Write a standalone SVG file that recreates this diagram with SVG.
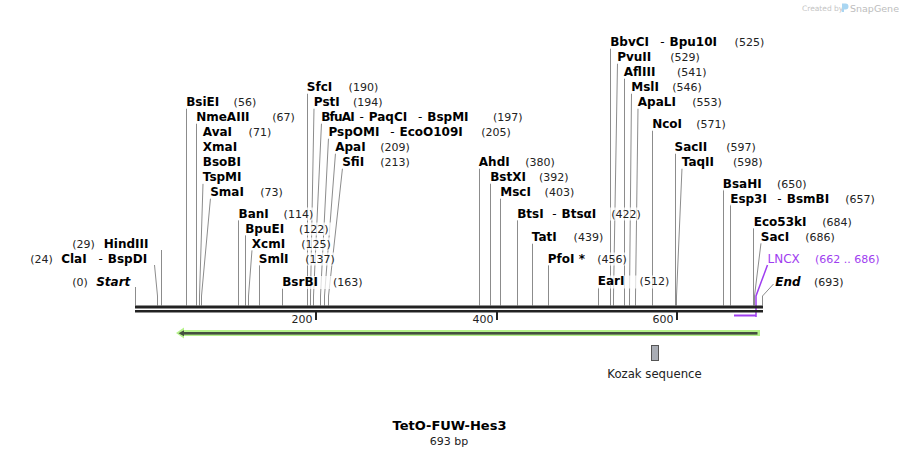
<svg xmlns="http://www.w3.org/2000/svg" width="899" height="456" viewBox="0 0 899 456">
<style>
.n{font-family:"DejaVu Sans",Verdana,sans-serif;font-weight:bold;font-size:12px;fill:#000}
.h{font-weight:normal}
.p{font-family:"DejaVu Sans",Verdana,sans-serif;font-size:11px;fill:#222}
.it{font-style:italic}
.bg{fill:#fff;fill-opacity:0.72}
.ln{stroke:#8c8c8c;stroke-width:1;fill:none}
.tk{font-family:"DejaVu Sans",Verdana,sans-serif;font-size:11px;fill:#222;text-anchor:end}
.pu{fill:#9f3ef0}
</style>
<rect width="899" height="456" fill="#fff"/>
<g id="credit">
<text x="802" y="11" font-family="DejaVu Sans,sans-serif" font-size="7.5" fill="#c4c4c4">Created by</text>
<path d="M842,3.5h3.5a3,3 0 0 1 0,6h-1.5v2.5h-2z" fill="#a9d6f2"/>
<text x="850" y="11.5" font-family="DejaVu Sans,sans-serif" font-size="9.5" fill="#bdbdbd">SnapGene</text>
</g>
<g id="connectors">
<path class="ln" d="M135.5,305.5V287"/>
<path class="ln" d="M157.5,305.5V296L154.5,265"/>
<path class="ln" d="M161.5,305.5V250"/>
<path class="ln" d="M186.5,305.5V108"/>
<path class="ln" d="M196.5,305.5V123"/>
<path class="ln" d="M199.5,305.5V296L203,183.5"/>
<path class="ln" d="M201.5,305.5V296L210.5,198"/>
<path class="ln" d="M238.5,305.5V220"/>
<path class="ln" d="M245.5,305.5V235"/>
<path class="ln" d="M248.5,305.5V296L252,250"/>
<path class="ln" d="M259.5,305.5V265"/>
<path class="ln" d="M282.5,305.5V288"/>
<path class="ln" d="M307.5,305.5V93"/>
<path class="ln" d="M310.5,305.5V296L314,108"/>
<path class="ln" d="M313.5,305.5V296L321.5,123"/>
<path class="ln" d="M320.5,305.5V296L328.5,138"/>
<path class="ln" d="M324.5,305.5V296L335.5,153"/>
<path class="ln" d="M328.5,305.5V296L342.5,168"/>
<path class="ln" d="M479.5,305.5V168"/>
<path class="ln" d="M490.5,305.5V183"/>
<path class="ln" d="M500.5,305.5V198"/>
<path class="ln" d="M517.5,305.5V220"/>
<path class="ln" d="M532.5,305.5V243"/>
<path class="ln" d="M548.5,305.5V265"/>
<path class="ln" d="M598.5,305.5V287.5"/>
<path class="ln" d="M610.5,305.5V48"/>
<path class="ln" d="M613.5,305.5V296L617.5,63"/>
<path class="ln" d="M624.5,305.5V78"/>
<path class="ln" d="M629.5,305.5V296L631.5,93"/>
<path class="ln" d="M635.5,305.5V296L638,108"/>
<path class="ln" d="M652.5,305.5V130"/>
<path class="ln" d="M675.5,305.5V153"/>
<path class="ln" d="M676.5,305.5V296L682,168"/>
<path class="ln" d="M723.5,305.5V189.5"/>
<path class="ln" d="M730.5,305.5V204.5"/>
<path class="ln" d="M753.5,305.5V228"/>
<path class="ln" d="M754.5,305.5V296L761,243"/>
<path class="ln" d="M762.5,305.5V296L773.5,284"/>
<path d="M756,317V296L767.5,265" stroke="#9f3ef0" stroke-width="1.5" fill="none"/>
</g>
<g id="backbone">
<rect x="135" y="305.5" width="628" height="3" fill="#222"/>
<rect x="135" y="310" width="628" height="2.5" fill="#222"/>
<line x1="316" y1="310" x2="316" y2="320" stroke="#222" stroke-width="2"/>
<line x1="497" y1="310" x2="497" y2="320" stroke="#222" stroke-width="2"/>
<line x1="677" y1="310" x2="677" y2="320" stroke="#222" stroke-width="2"/>
<text class="tk" x="312.5" y="322.5">200</text>
<text class="tk" x="493.5" y="322.5">400</text>
<text class="tk" x="673.5" y="322.5">600</text>
</g>
<g id="f_LNCX">
<rect class="pu" x="734" y="314.5" width="22" height="2"/>
<rect class="bg" x="767" y="252" width="118" height="13"/>
<text x="767.5" y="262.7" font-family="DejaVu Sans,Verdana,sans-serif" font-size="12" fill="#9f3ef0">LNCX</text>
<text x="815" y="262.7" font-family="DejaVu Sans,Verdana,sans-serif" font-size="11" fill="#9f3ef0">(662 .. 686)</text>
</g>
<g id="f_orf">
<path d="M760,330H184V327.5L176,333L184,338.5V336H760Z" fill="#b5f28a"/>
<rect x="183" y="332" width="574.5" height="2.6" fill="#454f40"/>
<path d="M178.5,333.3L184,330.3V336.3Z" fill="#454f40"/>
</g>
<g id="f_kozak">
<rect x="651.5" y="345.5" width="7" height="15" fill="#a9adb5" stroke="#555" stroke-width="1"/>
<text x="654.5" y="377.5" font-family="DejaVu Sans,Verdana,sans-serif" font-size="11.7" fill="#222" text-anchor="middle">Kozak sequence</text>
</g>
<g id="e_Start"><rect class="bg" x="71" y="276" width="60" height="13"/><text class="p" x="72.3" y="286">(0)</text><text class="n it" x="96.2" y="286">Start</text></g>
<g id="e_ClaI"><rect class="bg" x="30" y="252.5" width="121" height="13"/><text class="p" x="30.3" y="262.7">(24)</text><text class="n" y="262.7"><tspan x="61.2">ClaI</tspan><tspan class="h" x="98.5">-</tspan><tspan x="107.8">BspDI</tspan></text></g>
<g id="e_HindIII"><rect class="bg" x="71" y="237.5" width="85" height="13"/><text class="p" x="72.3" y="247.7">(29)</text><text class="n" x="103.8" y="247.7">HindIII</text></g>
<g id="e_BsiEI"><rect class="bg" x="185" y="96" width="74" height="13"/><text class="n" x="186.2" y="106">BsiEI</text><text class="p" x="233.6" y="106">(56)</text></g>
<g id="e_NmeAIII"><rect class="bg" x="195" y="111" width="103" height="13"/><text class="n" x="196.2" y="121">NmeAIII</text><text class="p" x="272.3" y="121">(67)</text></g>
<g id="e_AvaI"><rect class="bg" x="202" y="126" width="71" height="13"/><rect class="bg" x="202" y="141" width="39" height="13"/><rect class="bg" x="202" y="156" width="43" height="13"/><rect class="bg" x="202" y="171" width="44" height="13"/><text class="n" x="202.8" y="136">AvaI</text><text class="p" x="248.6" y="136">(71)</text><text class="n" x="202.8" y="151">XmaI</text><text class="n" x="202.8" y="166">BsoBI</text><text class="n" x="202.8" y="181">TspMI</text></g>
<g id="e_SmaI"><rect class="bg" x="209" y="186" width="77" height="13"/><text class="n" x="210.2" y="196">SmaI</text><text class="p" x="260.3" y="196">(73)</text></g>
<g id="e_BanI"><rect class="bg" x="237.5" y="207.5" width="78" height="13"/><text class="n" x="238.5" y="217.7">BanI</text><text class="p" x="283.6" y="217.7">(114)</text></g>
<g id="e_BpuEI"><rect class="bg" x="244" y="222.5" width="87" height="13"/><text class="n" x="245.2" y="232.7">BpuEI</text><text class="p" x="298.9" y="232.7">(122)</text></g>
<g id="e_XcmI"><rect class="bg" x="251" y="237.5" width="82" height="13"/><text class="n" x="251.8" y="247.7">XcmI</text><text class="p" x="301.3" y="247.7">(125)</text></g>
<g id="e_SmlI"><rect class="bg" x="258" y="252.5" width="79" height="13"/><text class="n" x="258.8" y="262.7">SmlI</text><text class="p" x="305.3" y="262.7">(137)</text></g>
<g id="e_BsrBI"><rect class="bg" x="281" y="276" width="84" height="13"/><text class="n" x="282.2" y="286">BsrBI</text><text class="p" x="332.9" y="286">(163)</text></g>
<g id="e_SfcI"><rect class="bg" x="306" y="81" width="74" height="13"/><text class="n" x="306.8" y="91">SfcI</text><text class="p" x="348.6" y="91">(190)</text></g>
<g id="e_PstI"><rect class="bg" x="313" y="96" width="71" height="13"/><text class="n" x="313.8" y="106">PstI</text><text class="p" x="352.9" y="106">(194)</text></g>
<g id="e_BfuAI"><rect class="bg" x="320" y="111" width="204" height="13"/><text class="n" y="121"><tspan x="321.2" textLength="33.5">BfuAI</tspan><tspan class="h" x="359.5">-</tspan><tspan x="368.8">PaqCI</tspan><tspan class="h" x="418">-</tspan><tspan x="427.3">BspMI</tspan></text><text class="p" x="492.9" y="121">(197)</text></g>
<g id="e_PspOMI"><rect class="bg" x="327.5" y="126" width="185" height="13"/><text class="n" y="136"><tspan x="328.5">PspOMI</tspan><tspan class="h" x="390.2">-</tspan><tspan x="399.5">EcoO109I</tspan></text><text class="p" x="481.3" y="136">(205)</text></g>
<g id="e_ApaI"><rect class="bg" x="334" y="141" width="77" height="13"/><text class="n" x="335.2" y="151">ApaI</text><text class="p" x="380.3" y="151">(209)</text></g>
<g id="e_SfiI"><rect class="bg" x="341" y="156" width="70" height="13"/><text class="n" x="342.2" y="166">SfiI</text><text class="p" x="380.3" y="166">(213)</text></g>
<g id="e_AhdI"><rect class="bg" x="478" y="156" width="78" height="13"/><text class="n" x="478.8" y="166">AhdI</text><text class="p" x="525.3" y="166">(380)</text></g>
<g id="e_BstXI"><rect class="bg" x="489" y="171" width="82" height="13"/><text class="n" x="490.2" y="181">BstXI</text><text class="p" x="538.9" y="181">(392)</text></g>
<g id="e_MscI"><rect class="bg" x="499" y="186" width="77" height="13"/><text class="n" x="500.2" y="196">MscI</text><text class="p" x="544.6" y="196">(403)</text></g>
<g id="e_BtsI"><rect class="bg" x="516" y="207.5" width="126" height="13"/><text class="n" y="217.7"><tspan x="517.2">BtsI</tspan><tspan class="h" x="552.2">-</tspan><tspan x="561.5">BtsαI</tspan></text><text class="p" x="611.3" y="217.7">(422)</text></g>
<g id="e_TatI"><rect class="bg" x="531" y="231" width="74" height="13"/><text class="n" x="531.8" y="241">TatI</text><text class="p" x="573.6" y="241">(439)</text></g>
<g id="e_PfoI"><rect class="bg" x="547" y="252.5" width="82" height="13"/><text class="n" x="547.8" y="262.7">PfoI *</text><text class="p" x="597.3" y="262.7">(456)</text></g>
<g id="e_EarI"><rect class="bg" x="597" y="275.5" width="74" height="13"/><text class="n" x="597.8" y="285.3">EarI</text><text class="p" x="639.6" y="285.3">(512)</text></g>
<g id="e_BbvCI"><rect class="bg" x="609" y="36" width="157" height="13"/><text class="n" y="46"><tspan x="610.2">BbvCI</tspan><tspan class="h" x="660.2">-</tspan><tspan x="669.5">Bpu10I</tspan></text><text class="p" x="734.6" y="46">(525)</text></g>
<g id="e_PvuII"><rect class="bg" x="616" y="51" width="86" height="13"/><text class="n" x="617.2" y="61">PvuII</text><text class="p" x="670.3" y="61">(529)</text></g>
<g id="e_AflIII"><rect class="bg" x="623" y="66" width="85" height="13"/><text class="n" x="623.8" y="76">AflIII</text><text class="p" x="676.9" y="76">(541)</text></g>
<g id="e_MslI"><rect class="bg" x="630" y="81" width="74" height="13"/><text class="n" x="631.2" y="91">MslI</text><text class="p" x="672.3" y="91">(546)</text></g>
<g id="e_ApaLI"><rect class="bg" x="637" y="96" width="87" height="13"/><text class="n" x="637.8" y="106">ApaLI</text><text class="p" x="692.3" y="106">(553)</text></g>
<g id="e_NcoI"><rect class="bg" x="651" y="118" width="77" height="13"/><text class="n" x="652.2" y="128">NcoI</text><text class="p" x="696.3" y="128">(571)</text></g>
<g id="e_SacII"><rect class="bg" x="673.5" y="141" width="85" height="13"/><text class="n" x="674.5" y="151">SacII</text><text class="p" x="726.3" y="151">(597)</text></g>
<g id="e_TaqII"><rect class="bg" x="681" y="156" width="84" height="13"/><text class="n" x="681.8" y="166">TaqII</text><text class="p" x="732.9" y="166">(598)</text></g>
<g id="e_BsaHI"><rect class="bg" x="722" y="177.5" width="87" height="13"/><text class="n" x="722.8" y="187.5">BsaHI</text><text class="p" x="776.9" y="187.5">(650)</text></g>
<g id="e_Esp3I"><rect class="bg" x="729" y="192.5" width="148" height="13"/><text class="n" y="202.5"><tspan x="730.2">Esp3I</tspan><tspan class="h" x="777.2">-</tspan><tspan x="786.8">BsmBI</tspan></text><text class="p" x="845.3" y="202.5">(657)</text></g>
<g id="e_Eco53kI"><rect class="bg" x="753" y="215.5" width="101" height="13"/><text class="n" x="753.8" y="225.7">Eco53kI</text><text class="p" x="822.3" y="225.7">(684)</text></g>
<g id="e_SacI"><rect class="bg" x="760" y="230.5" width="77" height="13"/><text class="n" x="760.8" y="240.7">SacI</text><text class="p" x="805.3" y="240.7">(686)</text></g>
<g id="e_End"><rect class="bg" x="774" y="275.5" width="72" height="13"/><text class="n it" x="775.2" y="285.7">End</text><text class="p" x="813.9" y="285.7">(693)</text></g>
<g id="title">
<text x="449.5" y="429.5" font-family="DejaVu Sans,Verdana,sans-serif" font-size="13" font-weight="bold" fill="#000" text-anchor="middle">TetO-FUW-Hes3</text>
<text x="449" y="444.5" font-family="DejaVu Sans,Verdana,sans-serif" font-size="11" fill="#222" text-anchor="middle">693 bp</text>
</g>
</svg>
